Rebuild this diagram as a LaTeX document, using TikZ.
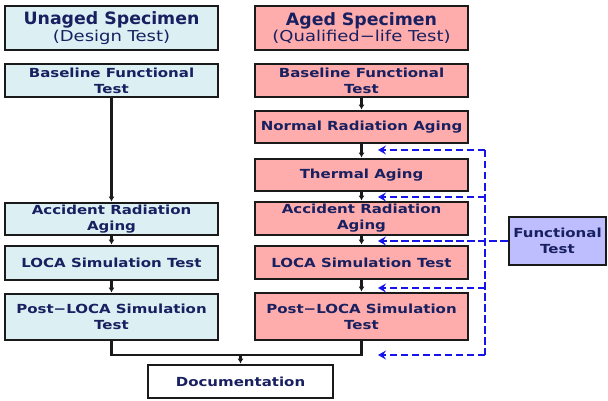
\documentclass[tikz,border=0pt]{standalone}
\usepackage{fontspec}
\setmainfont{DejaVu Sans}
\newfontfamily\headfont{DejaVu Sans}[FakeStretch=1.02]
\newfontfamily\subfont{DejaVu Sans}[FakeStretch=1.2]
\newfontfamily\boxfont{DejaVu Sans}[FakeStretch=1.2]
\usetikzlibrary{arrows.meta}
\definecolor{ink}{RGB}{24,32,96}
\definecolor{edge}{RGB}{26,26,26}
\definecolor{unaged}{RGB}{220,240,244}
\definecolor{aged}{RGB}{255,172,172}
\definecolor{functest}{RGB}{190,190,255}
\definecolor{busblue}{RGB}{20,20,235}
\tikzset{
  box/.style={draw=edge, line width=2.8pt, inner sep=0pt, align=center, text=ink,
    font=\boxfont\bfseries\fontsize{12.5}{16}\selectfont, minimum width=213pt},
  headbox/.style={box, minimum height=44pt, font=\subfont\fontsize{15}{16.5}\selectfont},
  ubox/.style={box, fill=unaged},
  abox/.style={box, fill=aged},
  flow/.style={draw=edge, line width=2.3pt, -{Latex[length=5pt,width=6pt]}},
  joinline/.style={draw=edge, line width=2.3pt},
  bus/.style={busblue, line width=2.4pt, dash pattern=on 7.5pt off 3.5pt},
  busarrow/.style={bus, -{Stealth[length=8pt,width=9pt,inset=3pt]}}
}
\begin{document}
\begin{tikzpicture}[x=1pt,y=-1pt]
\useasboundingbox (0,0) rectangle (608,401);

% unaged column
\node[headbox, fill=unaged] (lhead) at (111.5,28)
  {{\headfont\bfseries\fontsize{17}{16.5}\selectfont Unaged Specimen}\\(Design Test)};
\node[ubox, minimum height=33pt] (lbase) at (111.5,80.5) {Baseline Functional\\Test};
\node[ubox, minimum height=32pt] (lacc)  at (111.5,219) {Accident Radiation\\Aging};
\node[ubox, minimum height=34pt] (lloca) at (111.5,263) {LOCA Simulation Test};
\node[ubox, minimum height=46pt] (lpost) at (111.5,317) {Post−LOCA Simulation\\Test};

% aged column
\node[headbox, fill=aged] (rhead) at (361.5,28)
  {{\headfont\bfseries\fontsize{17}{16.5}\selectfont Aged Specimen}\\(Qualified−life Test)};
\node[abox, minimum height=33pt] (rbase)  at (361.5,80.5) {Baseline Functional\\Test};
\node[abox, minimum height=32pt] (rnorm)  at (361.5,127) {Normal Radiation Aging};
\node[abox, minimum height=32pt] (rtherm) at (361.5,175) {Thermal Aging};
\node[abox, minimum height=33pt] (racc)   at (361.5,218.5) {Accident Radiation\\Aging};
\node[abox, minimum height=33pt] (rloca)  at (361.5,262.5) {LOCA Simulation Test};
\node[abox, minimum height=47pt] (rpost)  at (361.5,316.5) {Post−LOCA Simulation\\Test};

% documentation and functional test
\node[box, fill=white, minimum width=185pt, minimum height=33pt] (doc) at (240.5,381.5) {Documentation};
\node[box, fill=functest, minimum width=97pt, minimum height=48pt] (func) at (557.5,241) {Functional\\Test};

% test sequence
\draw[flow] (lbase) -- (lacc);
\draw[flow] (lacc) -- (lloca);
\draw[flow] (lloca) -- (lpost);
\draw[flow] (rbase) -- (rnorm);
\draw[flow] (rnorm) -- (rtherm);
\draw[flow] (rtherm) -- (racc);
\draw[flow] (racc) -- (rloca);
\draw[flow] (rloca) -- (rpost);

\coordinate (j) at (240.5,355);
\draw[joinline] (lpost.south) |- (j) -| (rpost.south);
\draw[flow] (j) -- (doc);

% functional test points
\coordinate (b1) at (485,150);
\coordinate (b2) at (485,197);
\coordinate (b4) at (485,288);
\coordinate (b5) at (485,355);
\coordinate (t1) at (378,150);
\coordinate (t2) at (378,197);
\coordinate (t3) at (378,241);
\coordinate (t4) at (378,288);
\coordinate (t5) at (378,355);
\draw[bus] (b1) -- (b5);
\draw[busarrow] (func.west) -- (t3);
\draw[busarrow] (b1) -- (t1);
\draw[busarrow] (b2) -- (t2);
\draw[busarrow] (b4) -- (t4);
\draw[busarrow] (b5) -- (t5);
\end{tikzpicture}
\end{document}
